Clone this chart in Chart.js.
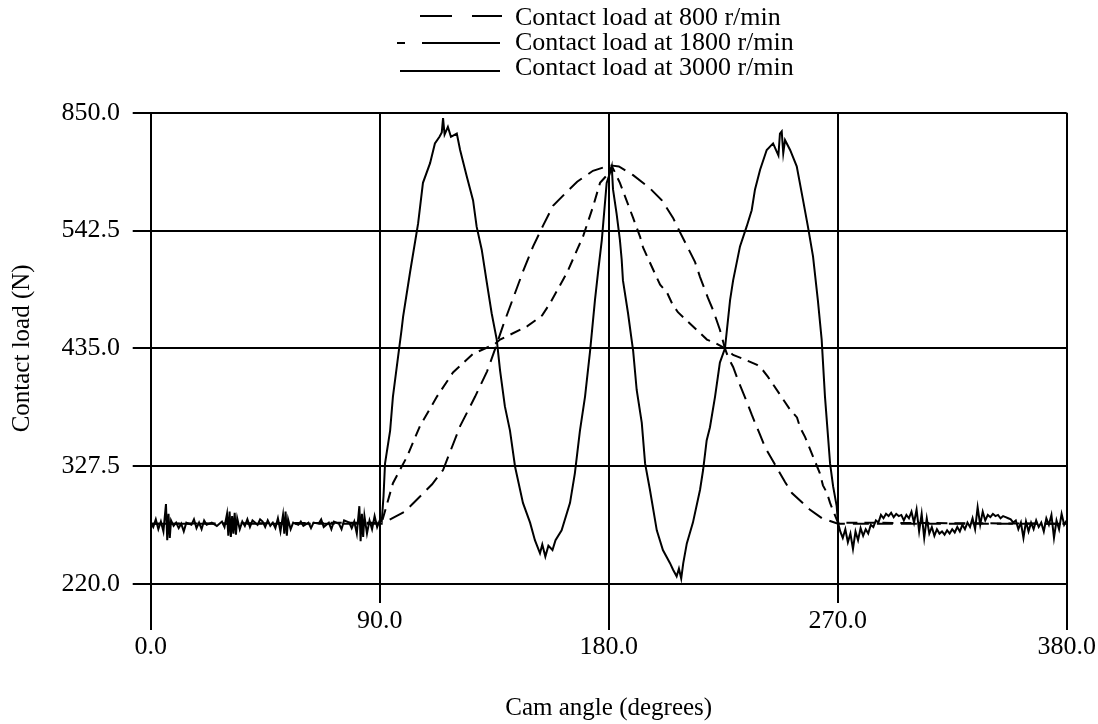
<!DOCTYPE html>
<html>
<head>
<meta charset="utf-8">
<script src="https://cdn.jsdelivr.net/npm/chart.js@4.4.1/dist/chart.umd.min.js"></script>
<style>
    html, body { margin: 0; padding: 0; background: #fff; }
    #wrap { position: relative; width: 1098px; height: 724px; }
    #grafico { position: absolute; left: 0; top: 0; }
    #legenda {
        position: absolute; left: 0; top: 0; width: 1098px; height: 90px;
        font-family: "Liberation Serif", "Times New Roman", serif; font-size: 26px; color: #000;
    }
    .linha { position: absolute; left: 390px; height: 25px; line-height: 25px; white-space: nowrap; }
    .linha svg { position: absolute; left: 0; top: 0; }
    .linha span { position: absolute; left: 125px; top: 0; }
</style>
</head>
<body>
<div id="wrap">
    <canvas id="grafico" width="1098" height="724"></canvas>
    <div id="legenda"></div>
</div>
<script>
// Séries (ângulo do came em graus, carga de contato)
const seriesLabels = [
    "Contact load at 800 r/min",
    "Contact load at 1800 r/min",
    "Contact load at 3000 r/min",
];

const angle800 = [0, 90.8, 99.9, 110.6, 114.9, 121.6, 127.5, 132.2, 135.3, 138.5, 146.3, 150.3, 154.2, 158.1,
    163.6, 167.6, 173.8, 180.5, 184, 189.6, 196.2, 200.9, 205.3, 208, 213.9, 215.9, 219, 221, 223.7, 225.7,
    226.9, 228.9, 230.8, 234.3, 236.3, 239.5, 241.4, 249.3, 252, 259, 263.8, 270.1, 360];
const load800 = [275, 275, 286, 311, 324, 364, 391, 414, 434, 456, 505, 528, 547, 565,
    578, 587, 597, 602, 601, 593, 581, 570, 554, 541, 514, 500, 481, 470, 452, 435,
    427, 418, 406, 386, 374, 356, 345, 313, 303, 288, 280, 275, 275];

const angle1800 = [0, 90.8, 95.2, 100.7, 105.8, 112.5, 118.8, 126.7, 135.3, 137.3, 147.9, 153.8, 156.9, 163.6,
    167.6, 169.9, 173.8, 176.6, 179.3, 181.3, 184.4, 189.6, 192.3, 193.5, 200.2, 202.9, 204.9, 207.2, 218.6,
    221.8, 225.7, 228.9, 234.3, 238.3, 240.6, 242.6, 251.3, 254, 255.2, 257.2, 263, 264.2, 265.8, 267, 270.1, 360];
const load1800 = [275, 276, 312, 336, 364, 391, 413, 430, 439, 443, 455, 465, 476, 504,
    525, 537, 564, 586, 593, 601, 586, 554, 537, 527, 493, 486, 476, 468, 443,
    440, 435, 429, 424, 420, 415, 409, 379, 372, 363, 354, 321, 310, 303, 294, 276, 275];

const angle3000 = [0, 1, 2, 3, 4, 5, 6, 6.5, 7, 7.5, 8, 9, 10, 11, 12, 13, 14, 16, 17, 18, 19, 20, 21, 22, 24, 26, 28, 29,
    30, 30.5, 31, 31.5, 32, 32.5, 33, 33.5, 34, 35, 36, 37, 38, 39, 40, 42, 43, 44, 45, 46, 47, 48, 49, 50, 51, 52,
    52.5, 53, 53.5, 54, 55, 56, 58, 59, 60, 62, 63, 64, 66, 67, 68, 70, 71, 72, 74, 75, 76, 78, 79, 80, 81, 82,
    82.5, 83, 83.5, 84, 85, 86, 87, 88, 89, 90, 90.8,
    91.5, 92.1, 94.1, 95.2, 97.2, 98.6, 99.2, 101.9, 105.1, 107.0, 109.8, 111.7, 113.5, 114.4, 114.9, 115.5,
    116.8, 118, 120.3, 121.6, 124.2, 126.7, 128.1, 130.1, 132.1, 134.0, 136.0, 137.3, 139.2, 141.2, 143.2,
    146.3, 149.1, 151.0, 153.0, 153.9, 155.1, 156.3, 157.9, 159.1, 161.5, 164.8, 166.7, 168.7, 170.7, 172.7,
    174.6, 175.8, 177.3, 179.2, 180.5, 181.2, 181.7, 183.1, 184.4, 185.1, 185.6, 187.6, 189.0, 189.6, 191.0,
    193.0, 194.3, 196.2, 198.9, 201.3, 204.1, 205.3, 206.7, 207.6, 208.5, 209.3, 210.7, 213.1, 215.9, 217.1,
    218.5, 219.8, 221.8, 223.7, 225.7, 227.7, 228.9, 231.6, 234.2, 236.2, 237.5, 239.5, 242.1, 244.6, 246.7,
    247.3, 248.0, 248.6, 249.3, 251.3, 253.9, 256.4, 258.3, 260.3, 262.2, 263.7, 265.0, 267.0, 268.2, 269.6, 270.1,
    271, 272, 273, 274, 275, 276, 277, 278, 279, 280, 281, 282, 283, 284, 285, 286, 287, 288, 289, 290,
    291, 292, 293, 294, 295, 296, 297, 298, 299, 300, 301, 302, 303, 304, 305, 306, 307, 308, 309, 310,
    311, 312, 313, 314, 315, 316, 317, 318, 319, 320, 321, 322, 323, 324, 325, 326, 327, 328, 329, 330,
    331, 332, 333, 334, 335, 336, 337, 338, 339, 340, 341, 342, 343, 344, 345, 346, 347, 348, 349, 350,
    351, 352, 353, 354, 355, 356, 357, 358, 359, 360];
const load3000 = [276, 272, 279, 270, 277, 268, 293, 260, 284, 262, 278, 273, 276, 271, 275, 268, 276, 274, 279, 271, 276, 270, 278, 274, 276, 273, 277, 272,
    284, 264, 286, 263, 282, 266, 285, 265, 280, 270, 277, 273, 279, 272, 278, 274, 279, 277, 272, 278, 273, 276, 271, 280, 268, 283,
    266, 286, 264, 279, 270, 276, 274, 277, 273, 276, 271, 276, 275, 279, 272, 276, 270, 277, 275, 270, 278, 276, 271, 277, 266, 291,
    259, 284, 263, 282, 266, 278, 270, 282, 272, 278, 277,
    300, 330, 360, 391, 427, 452, 464, 504, 549, 586, 604, 622, 628, 632, 645, 630,
    637, 628, 631, 616, 592, 570, 546, 525, 495, 467, 443, 415, 382, 360, 327,
    294, 276, 260, 248, 256, 245, 255, 251, 260, 269, 294, 321, 360, 391, 433,
    479, 504, 534, 586, 595, 601, 580, 558, 534, 516, 497, 467, 443, 433, 397,
    367, 330, 306, 269, 251, 239, 233, 227, 234, 225, 239, 257, 276, 306, 324,
    351, 363, 391, 422, 435, 479, 497, 528, 546, 561, 580, 598, 616, 622, 611,
    631, 633, 613, 625, 616, 601, 570, 546, 519, 479, 443, 391, 330, 309, 291, 276,
    268, 262, 270, 258, 266, 252, 268, 260, 271, 264, 270, 266, 274, 272, 278, 276, 283, 280, 284, 282,
    285, 281, 284, 282, 283, 278, 283, 280, 286, 276, 288, 268, 284, 262, 280, 266, 272, 264, 270, 266,
    268, 265, 269, 266, 270, 267, 272, 268, 274, 270, 276, 272, 280, 270, 290, 274, 286, 278, 283, 281,
    284, 282, 283, 280, 282, 281, 280, 279, 276, 278, 270, 276, 262, 277, 268, 276, 270, 278, 272, 276,
    268, 280, 274, 283, 262, 278, 270, 284, 274, 278];

// Eixos
const xTickValues = [0, 90, 180, 270, 360];
const xTickLabels = ["0.0", "90.0", "180.0", "270.0", "380.0"];
const yTickValues = [220, 327.5, 435, 542.5, 650];
const yTickLabels = ["220.0", "327.5", "435.0", "542.5", "850.0"];

const toPoints = (xs, ys) => xs.map((x, i) => ({ x: x, y: ys[i] }));

// Legenda em HTML (três linhas, uma embaixo da outra)
const legendStyles = [
    { top: 4, lineY: 12, x1: 30, x2: 112, dash: "32 20" },
    { top: 29, lineY: 14, x1: 7, x2: 110, dash: "8 17 78 0" },
    { top: 54, lineY: 17, x1: 10, x2: 110, dash: "" },
];
const legenda = document.getElementById("legenda");
seriesLabels.forEach((label, i) => {
    const s = legendStyles[i];
    const row = document.createElement("div");
    row.className = "linha";
    row.style.top = s.top + "px";
    row.innerHTML =
        '<svg width="120" height="25"><line x1="' + s.x1 + '" y1="' + s.lineY + '" x2="' + s.x2 + '" y2="' + s.lineY +
        '" stroke="#000" stroke-width="2.2"' + (s.dash ? ' stroke-dasharray="' + s.dash + '"' : "") + "/></svg>";
    const span = document.createElement("span");
    span.textContent = label;
    row.appendChild(span);
    legenda.appendChild(row);
});

// Traços dos ticks do eixo x abaixo da área do gráfico (alternando comprimento)
const tickExtensions = {
    id: "tickExtensions",
    afterDraw(chart) {
        const { ctx, chartArea, scales } = chart;
        ctx.save();
        ctx.strokeStyle = "#000";
        ctx.lineWidth = 2;
        xTickValues.forEach((v, i) => {
            const x = Math.round(scales.x.getPixelForValue(v));
            const len = i % 2 ? 19 : 46;
            ctx.beginPath();
            ctx.moveTo(x, chartArea.bottom);
            ctx.lineTo(x, chartArea.bottom + len);
            ctx.stroke();
        });
        ctx.restore();
    },
};

Chart.defaults.font.family = "'Liberation Serif', 'Times New Roman', serif";
Chart.defaults.color = "#000";

const grafico = document.getElementById("grafico");
new Chart(grafico, {
    type: "line",
    data: {
        datasets: [
            {
                label: seriesLabels[0],
                data: toPoints(angle800, load800),
                borderColor: "#000",
                borderWidth: 2,
                borderDash: [16, 8],
                pointRadius: 0,
                tension: 0,
            },
            {
                label: seriesLabels[1],
                data: toPoints(angle1800, load1800),
                borderColor: "#000",
                borderWidth: 2,
                borderDash: [11, 7],
                pointRadius: 0,
                tension: 0,
            },
            {
                label: seriesLabels[2],
                data: toPoints(angle3000, load3000),
                borderColor: "#000",
                borderWidth: 2,
                pointRadius: 0,
                tension: 0,
            },
        ],
    },
    options: {
        responsive: false,
        animation: false,
        layout: { padding: { top: 112.7, right: 31.3, bottom: 0, left: 0 } },
        plugins: {
            legend: { display: false },
            tooltip: { enabled: false },
        },
        scales: {
            x: {
                type: "linear",
                min: 0,
                max: 360,
                afterBuildTicks: (scale) => {
                    scale.ticks = xTickValues.map((v) => ({ value: v }));
                },
                afterFit: (scale) => {
                    scale.height = 140;
                    scale.paddingLeft = 0;
                    scale.paddingRight = 0;
                },
                ticks: {
                    autoSkip: false,
                    maxRotation: 0,
                    padding: 24,
                    font: { size: 26, lineHeight: 1.0 },
                    callback: (value, index) => (index % 2 ? xTickLabels[index] : ["", xTickLabels[index]]),
                },
                grid: { color: "#000", lineWidth: 2, drawTicks: false },
                border: { display: false },
                title: {
                    display: true,
                    text: "Cam angle (degrees)",
                    font: { size: 25 },
                    padding: { top: 0, bottom: 1 },
                },
            },
            y: {
                type: "linear",
                min: 220,
                max: 650,
                afterBuildTicks: (scale) => {
                    scale.ticks = yTickValues.map((v) => ({ value: v }));
                },
                afterFit: (scale) => {
                    scale.width = 150.7;
                    scale.paddingTop = 0;
                    scale.paddingBottom = 0;
                },
                ticks: {
                    padding: 12.7,
                    font: { size: 26 },
                    callback: (value, index) => yTickLabels[index],
                },
                grid: { color: "#000", lineWidth: 2, tickLength: 18 },
                border: { display: false },
                title: {
                    display: true,
                    text: "Contact load (N)",
                    font: { size: 25 },
                    padding: { top: 7, bottom: 0 },
                },
            },
        },
    },
    plugins: [tickExtensions],
});
</script>
</body>
</html>
